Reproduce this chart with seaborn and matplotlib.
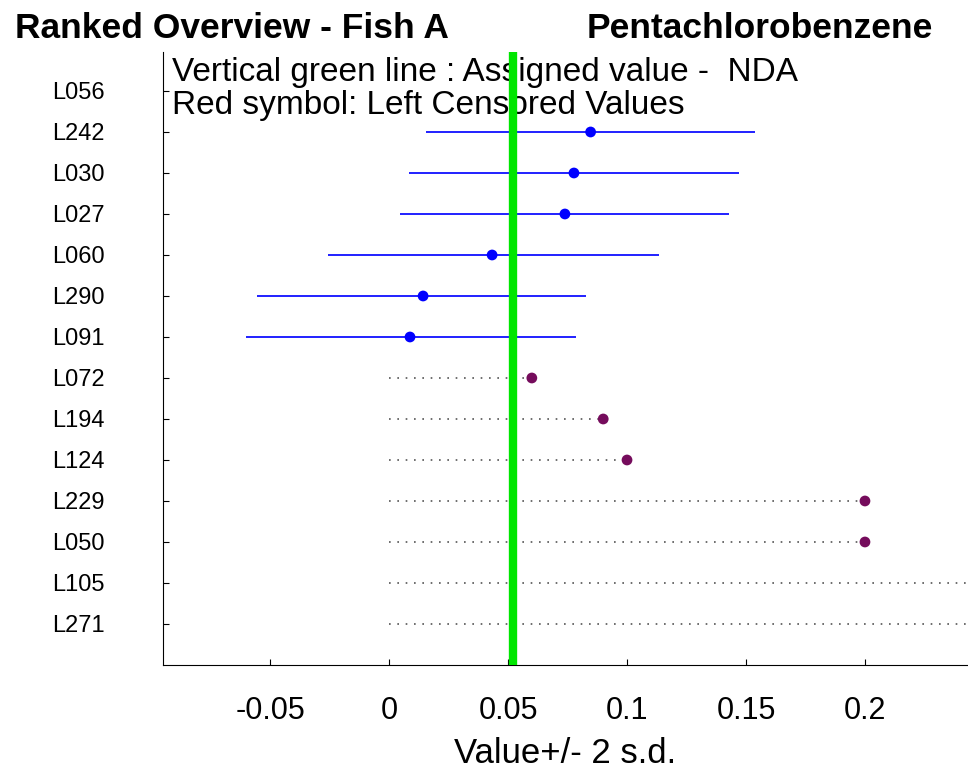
import numpy as np
import pandas as pd
import matplotlib
matplotlib.use("Agg")
import matplotlib.pyplot as plt
import seaborn as sns

# labs in ranked order, top to bottom
labs = ["L056", "L242", "L030", "L027", "L060", "L290", "L091",
        "L072", "L194", "L124", "L229", "L050", "L105", "L271"]

# reported values (nan = nothing reported)
vals = [np.nan, 0.0847, 0.0777, 0.0739, 0.0433, 0.0143, 0.0088,
        0.06, 0.09, 0.1, 0.2, 0.2, 0.30, 0.30]
# +/- 2 s.d. interval for quantified results
lo = [np.nan, 0.0156, 0.0084, 0.0046, -0.0256, -0.0555, -0.0603,
      np.nan, np.nan, np.nan, np.nan, np.nan, np.nan, np.nan]
hi = [np.nan, 0.1538, 0.1470, 0.1429, 0.1134, 0.0828, 0.0786,
      np.nan, np.nan, np.nan, np.nan, np.nan, np.nan, np.nan]
# left censored ("< value")
cens = [False, False, False, False, False, False, False,
        True, True, True, True, True, True, True]

assigned = 0.0521

df = pd.DataFrame({"lab": labs, "val": vals, "lo": lo, "hi": hi, "cens": cens})
df["pos"] = np.arange(len(df))

sns.set_style("ticks")
plt.rcParams["font.family"] = ["Liberation Sans", "DejaVu Sans"]
plt.rcParams["text.color"] = "black"
plt.rcParams["axes.labelcolor"] = "black"
plt.rcParams["xtick.color"] = "black"
plt.rcParams["ytick.color"] = "black"
plt.rcParams["axes.edgecolor"] = "black"

fig = plt.figure(figsize=(9.68, 7.71), dpi=100)
ax = fig.add_axes([0.1684, 0.1375, 0.8316, 0.795])

q = df[~df["cens"] & df["lo"].notna()]
ax.hlines(q["pos"], q["lo"], q["hi"], color="#2020ff", lw=1.4, zorder=2)

c = df[df["cens"]]
ax.hlines(c["pos"], 0, c["val"], color="#555555", lw=1.2,
          linestyles=(0, (1, 4)), zorder=2)

pts = df[df["val"].notna()]
sns.scatterplot(data=pts, x="val", y="pos", hue="cens",
                palette={False: "#0000ff", True: "#750c5c"},
                s=60, edgecolor="none", legend=False, zorder=3, ax=ax)

ax.axvline(assigned, color="#00e600", lw=6, zorder=5)

ax.text(0.011, 0.967, "Vertical green line : Assigned value -  NDA",
        transform=ax.transAxes, fontsize=24, va="center", ha="left", zorder=4)
ax.text(0.011, 0.912, "Red symbol: Left Censored Values",
        transform=ax.transAxes, fontsize=24, va="center", ha="left", zorder=4)

ax.set_xlim(-0.095, 0.2433)
ax.set_ylim(14.0, -0.95)
ax.set_yticks(df["pos"])
ax.set_yticklabels(df["lab"])
ax.set_xticks([-0.05, 0, 0.05, 0.1, 0.15, 0.2])
ax.set_xticklabels(["-0.05", "0", "0.05", "0.1", "0.15", "0.2"])
ax.tick_params(axis="y", direction="in", length=4, pad=42, labelsize=17)
ax.tick_params(axis="x", direction="in", length=4, pad=22, labelsize=22)
ax.set_xlabel("Value+/- 2 s.d.", fontsize=25, labelpad=8)
ax.set_ylabel("")
sns.despine(ax=ax, top=True, right=True)

fig.text(0.015, 0.963, "Ranked Overview - Fish A", fontsize=25.5,
         fontweight="bold", va="center", ha="left")
fig.text(0.606, 0.963, "Pentachlorobenzene", fontsize=25.5,
         fontweight="bold", va="center", ha="left")

fig.savefig("out.png", dpi=100, facecolor="white")
